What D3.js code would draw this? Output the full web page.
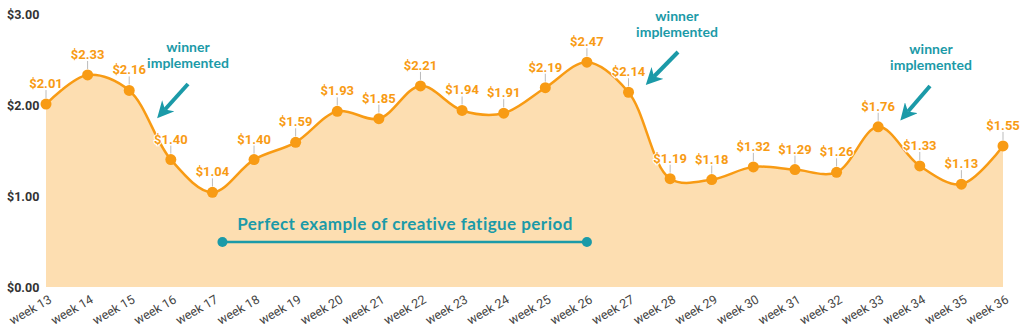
<!DOCTYPE html>
<html><head><meta charset="utf-8">
<script src="https://cdn.jsdelivr.net/npm/d3@7"></script>
<style>body{margin:0;background:#fff}svg{display:block}</style>
</head><body>
<svg id="c" width="1024" height="335"></svg>
<script>
const weeks = ["week 13","week 14","week 15","week 16","week 17","week 18","week 19","week 20","week 21","week 22","week 23","week 24","week 25","week 26","week 27","week 28","week 29","week 30","week 31","week 32","week 33","week 34","week 35","week 36"];
const cpa = [2.01,2.33,2.16,1.40,1.04,1.40,1.59,1.93,1.85,2.21,1.94,1.91,2.19,2.47,2.14,1.19,1.18,1.32,1.29,1.26,1.76,1.33,1.13,1.55];
const yTicks = [0,1,2,3];
const winnerWeeks = ["week 15","week 27","week 34"];
const fatigueStart = "week 17", fatigueEnd = "week 26";
const fatigueText = "Perfect example of creative fatigue period";

const svg = d3.select("#c");
const x = d3.scalePoint().domain(weeks).range([46,1003]);
const y = d3.scaleLinear().domain([0,3]).range([287,14]);
const data = weeks.map((w,i)=>({w, v:cpa[i]}));
const orange = "#F89B14", fill = "#FDDEB1", teal = "#1B9AA8";

const area = d3.area().x(d=>x(d.w)).y0(y(0)).y1(d=>y(d.v)).curve(d3.curveCatmullRom.alpha(0.5));
const line = d3.line().x(d=>x(d.w)).y(d=>y(d.v)).curve(d3.curveCatmullRom.alpha(0.5));
svg.append("path").datum(data).attr("d",area).attr("fill",fill);
svg.append("path").datum(data).attr("d",line).attr("fill","none").attr("stroke",orange).attr("stroke-width",2.5);

// y axis
const ya = svg.append("g").attr("transform","translate(40,0)")
  .call(d3.axisLeft(y).tickValues(yTicks).tickFormat(d=>"$"+d.toFixed(2)).tickSize(0).tickPadding(0));
ya.select(".domain").remove();
ya.selectAll("text").attr("x",-33).attr("text-anchor","start").attr("font-family","Roboto").attr("font-weight","bold").attr("font-size",12.5).attr("fill","#333");

// x axis
const xa = svg.append("g").attr("transform",`translate(0,${y(0)})`)
  .call(d3.axisBottom(x).tickSize(0));
xa.select(".domain").remove();
xa.selectAll("text").attr("font-family","Roboto").attr("font-size",12.5).attr("fill","#444")
  .attr("text-anchor","end").attr("dy",0).attr("y",0)
  .attr("transform","translate(6,15) rotate(-30)");

// connectors, points, labels
const g = svg.append("g");
g.selectAll("line.c").data(data).join("line").attr("class","c")
  .attr("x1",d=>x(d.w)).attr("x2",d=>x(d.w)).attr("y1",d=>y(d.v)-14).attr("y2",d=>y(d.v)-6)
  .attr("stroke","#bbb").attr("stroke-width",1);
g.selectAll("circle").data(data).join("circle")
  .attr("cx",d=>x(d.w)).attr("cy",d=>y(d.v)).attr("r",5.5).attr("fill",orange);
g.selectAll("text").data(data).join("text")
  .attr("x",d=>x(d.w)).attr("y",d=>y(d.v)-16)
  .attr("text-anchor","middle").attr("font-family","Roboto").attr("font-weight","bold").attr("font-size",13)
  .attr("fill",orange).attr("stroke","#fff").attr("stroke-width",2).attr("paint-order","stroke")
  .text(d=>"$"+d.v.toFixed(2));

// winner annotations
const ann = [
  {w:"week 15", tx:188, ty:52, ax1:188, ay1:84, ax2:160, ay2:115},
  {w:"week 27", tx:677, ty:21, ax1:678, ay1:52, ax2:649, ay2:82},
  {w:"week 34", tx:931, ty:54, ax1:930, ay1:86, ax2:903, ay2:117}
];
svg.append("defs").append("marker").attr("id","ah").attr("viewBox","0 0 10 10").attr("refX",3).attr("refY",5)
  .attr("markerWidth",4.2).attr("markerHeight",4.2).attr("orient","auto")
  .append("path").attr("d","M0,0 L10,5 L0,10 L3,5 z").attr("fill",teal);
ann.forEach(a=>{
  const t = svg.append("text").attr("x",a.tx).attr("y",a.ty).attr("text-anchor","middle")
    .attr("font-family","Lato").attr("font-weight","bold").attr("font-size",14).attr("fill",teal);
  t.append("tspan").attr("x",a.tx).attr("dy",0).text("winner");
  t.append("tspan").attr("x",a.tx).attr("dy",15.5).text("implemented");
  svg.append("line").attr("x1",a.ax1).attr("y1",a.ay1).attr("x2",a.ax2+5).attr("y2",a.ay2-5.5)
    .attr("stroke",teal).attr("stroke-width",4).attr("marker-end","url(#ah)");
});

// fatigue bracket
const fx1 = x(fatigueStart)+10, fx2 = x(fatigueEnd), fy = 242;
svg.append("line").attr("x1",fx1).attr("x2",fx2).attr("y1",fy).attr("y2",fy).attr("stroke",teal).attr("stroke-width",2.5);
[fx1,fx2].forEach(cx=>svg.append("circle").attr("cx",cx).attr("cy",fy).attr("r",5).attr("fill",teal));
svg.append("text").attr("x",405).attr("y",230).attr("text-anchor","middle")
  .attr("font-family","Lato").attr("font-weight","bold").attr("font-size",17).attr("letter-spacing",0.45).attr("fill",teal).text(fatigueText);
</script>
</body></html>
